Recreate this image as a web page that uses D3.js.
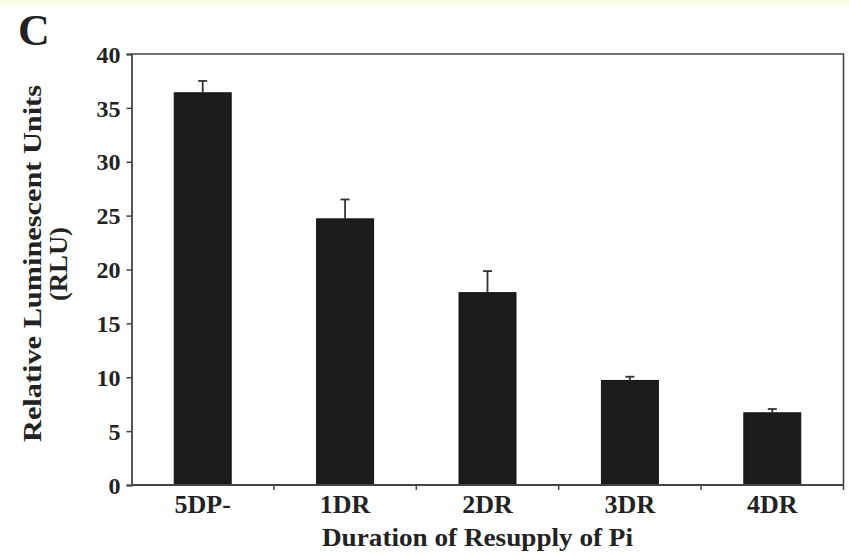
<!DOCTYPE html>
<html>
  <head>
    <meta charset="utf-8">
    <script src="https://d3js.org/d3.v7.min.js"></script>
    <style>
      body { margin: 0; background: white; }
      text { font-family: "Liberation Serif", "Times New Roman", serif; font-weight: bold; fill: #222; }
    </style>
  </head>
  <body>
    <div id="chart"></div>
<script>
var categories = ["5DP-", "1DR", "2DR", "3DR", "4DR"];
var values = [36.4, 24.7, 17.85, 9.7, 6.7];
var errors = [1.1, 1.8, 2.0, 0.35, 0.35];
var yTicks = [0, 5, 10, 15, 20, 25, 30, 35, 40];

var width = 849, height = 556;
var mLeft = 131.5, mRight = 843.5, mTop = 54, mBottom = 485;

var svg = d3.select("#chart").append("svg")
  .attr("width", width)
  .attr("height", height)
  .style("display", "block");

svg.append("rect").attr("width", width).attr("height", height).attr("fill", "white");
svg.append("rect").attr("width", width).attr("height", 5).attr("fill", "#fafde0");

var x = d3.scaleBand().domain(categories).range([mLeft, mRight]).padding(0);
var y = d3.scaleLinear().domain([0, 40]).range([mBottom, mTop]);
var bw = x.bandwidth() * 0.4;

// frame (top + right)
svg.append("path")
  .attr("d", "M" + mLeft + "," + mTop + "H" + mRight + "V" + mBottom)
  .attr("fill", "none").attr("stroke", "#444").attr("stroke-width", 1.6);

// bars
svg.selectAll(".bar").data(values).enter().append("rect")
  .attr("class", "bar")
  .attr("x", function(d, i) { return x(categories[i]) + x.bandwidth() / 2 - bw / 2; })
  .attr("y", function(d) { return y(d); })
  .attr("width", bw)
  .attr("height", function(d) { return y(0) - y(d); })
  .attr("fill", "#1c1c1c")
  .attr("stroke", "#111").attr("stroke-width", 1);

// error bars
var eb = svg.append("g").attr("stroke", "#333").attr("stroke-width", 1.8);
values.forEach(function(d, i) {
  var cx = x(categories[i]) + x.bandwidth() / 2;
  eb.append("line").attr("x1", cx).attr("x2", cx).attr("y1", y(d)).attr("y2", y(d + errors[i]));
  eb.append("line").attr("x1", cx - 4.5).attr("x2", cx + 4.5).attr("y1", y(d + errors[i])).attr("y2", y(d + errors[i]));
});

// y axis
var yAxis = svg.append("g")
  .attr("transform", "translate(" + mLeft + ",0)")
  .call(d3.axisLeft(y).tickValues(yTicks).tickSize(5).tickPadding(6));
yAxis.select(".domain").attr("stroke", "#444").attr("stroke-width", 1.8);
yAxis.selectAll(".tick line").attr("stroke", "#444").attr("stroke-width", 1.5);
yAxis.selectAll(".tick text")
  .attr("font-size", 24).attr("dy", "0.34em")
  .style("font-family", "'Liberation Serif', serif").style("font-weight", "bold").attr("fill", "#222");

// x axis: domain line + separators
var xAxis = svg.append("g").attr("transform", "translate(0," + mBottom + ")");
xAxis.append("line").attr("x1", mLeft).attr("x2", mRight).attr("stroke", "#444").attr("stroke-width", 1.8);
xAxis.selectAll(".sep").data(categories.slice(1).concat(["end"])).enter().append("line")
  .attr("x1", function(d, i) { return mLeft + (i + 1) * x.bandwidth(); })
  .attr("x2", function(d, i) { return mLeft + (i + 1) * x.bandwidth(); })
  .attr("y1", 0).attr("y2", 5)
  .attr("stroke", "#444").attr("stroke-width", 1.5);
xAxis.selectAll(".lab").data(categories).enter().append("text")
  .attr("x", function(d) { return x(d) + x.bandwidth() / 2; })
  .attr("y", 28)
  .attr("text-anchor", "middle")
  .attr("font-size", 26)
  .text(function(d) { return d; });

// axis titles
svg.append("text")
  .attr("x", 477.5).attr("y", 546)
  .attr("text-anchor", "middle").attr("font-size", 26)
  .attr("textLength", 311).attr("lengthAdjust", "spacingAndGlyphs")
  .text("Duration of Resupply of Pi");

svg.append("text")
  .attr("transform", "translate(41,263.5) rotate(-90)")
  .attr("text-anchor", "middle").attr("font-size", 26)
  .attr("textLength", 357).attr("lengthAdjust", "spacingAndGlyphs")
  .text("Relative Luminescent Units");
svg.append("text")
  .attr("transform", "translate(67,264) rotate(-90)")
  .attr("text-anchor", "middle").attr("font-size", 26)
  .attr("textLength", 74).attr("lengthAdjust", "spacingAndGlyphs")
  .text("(RLU)");

// panel letter
svg.append("text")
  .attr("x", 18).attr("y", 45)
  .attr("font-size", 44)
  .text("C");
</script>
  </body>
</html>
